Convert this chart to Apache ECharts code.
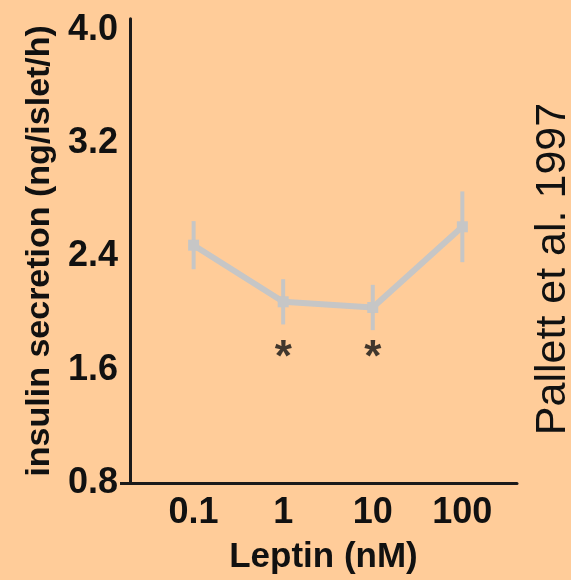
<!DOCTYPE html>
<html>
<head>
<meta charset="utf-8">
<script src="https://cdn.jsdelivr.net/npm/echarts@6/dist/echarts.min.js"></script>
<style>
html,body{margin:0;padding:0;background:#FFCC99;}
#chart{width:571px;height:580px;}
</style>
</head>
<body>
<div id="chart"></div>
<script>
var categories = ['0.1', '1', '10', '100'];
var insulin = [2.48, 2.08, 2.04, 2.61];
var errors = [0.17, 0.16, 0.16, 0.25];
var significant = ['', '*', '*', ''];
var starLevel = [1.76, 1.76, 1.76, 1.76];
var yTicks = [0.8, 1.6, 2.4, 3.2, 4.0];

var chart = echarts.init(document.getElementById('chart'));
var gray = '#c6c6c6';
var lineData = insulin.map(function (v, i) { return [i, v]; });
var errData = insulin.map(function (v, i) { return [i, v - errors[i], v + errors[i]]; });
var starData = [];
significant.forEach(function (s, i) { if (s) starData.push({ value: [i, starLevel[i]], label: { formatter: s } }); });

chart.setOption({
  backgroundColor: '#FFCC99',
  animation: false,
  textStyle: { fontFamily: 'Liberation Sans, Arial, sans-serif' },
  grid: { left: 130, right: 54, top: 18.7, bottom: 96 },
  xAxis: {
    type: 'value', min: -0.71, max: 3.61,
    splitLine: { show: false },
    axisLine: { show: true, onZero: false, lineStyle: { color: '#1a1a1a', width: 3 } },
    axisTick: { show: false },
    axisLabel: {
      customValues: [0, 1, 2, 3],
      formatter: function (v) { return categories[Math.round(v)]; },
      color: '#111', fontSize: 36, fontWeight: 'bold', margin: 12
    },
    name: 'Leptin (nM)', nameLocation: 'middle', nameGap: 57,
    nameTextStyle: { color: '#111', fontSize: 35, fontWeight: 'bold' }
  },
  yAxis: {
    type: 'value', min: 0.8, max: 4.08,
    splitLine: { show: false },
    axisLine: { show: true, onZero: false, lineStyle: { color: '#1a1a1a', width: 3 } },
    axisTick: { show: true, customValues: [0.8], length: 10, lineStyle: { color: '#1a1a1a', width: 3 } },
    axisLabel: {
      customValues: yTicks,
      formatter: function (v) { return v.toFixed(1); },
      color: '#111', fontSize: 36, fontWeight: 'bold', margin: 12
    },
    name: 'insulin secretion (ng/islet/h)', nameLocation: 'middle', nameGap: 72,
    nameTextStyle: { color: '#111', fontSize: 34, fontWeight: 'bold' }
  },
  graphic: [{
    type: 'text', x: 553, y: 269, rotation: Math.PI / 2,
    style: { text: 'Pallett et al. 1997', fontSize: 43, fill: '#111', fontFamily: 'Liberation Sans, Arial, sans-serif', align: 'center', verticalAlign: 'middle' }
  }],
  series: [
    {
      type: 'custom',
      data: errData,
      renderItem: function (params, api) {
        var lo = api.coord([api.value(0), api.value(1)]);
        var hi = api.coord([api.value(0), api.value(2)]);
        return { type: 'line', shape: { x1: lo[0], y1: lo[1], x2: hi[0], y2: hi[1] }, style: { stroke: gray, lineWidth: 4 } };
      },
      z: 1
    },
    {
      type: 'line', data: lineData,
      symbol: 'rect', symbolSize: 11, showAllSymbol: true,
      lineStyle: { color: gray, width: 6 },
      itemStyle: { color: gray },
      z: 2
    },
    {
      type: 'scatter', data: starData, symbolSize: 0,
      label: { show: true, position: 'inside', color: '#111', fontSize: 44, fontWeight: 'bold', offset: [0, 12] },
      z: 3
    }
  ]
});
</script>
</body>
</html>
